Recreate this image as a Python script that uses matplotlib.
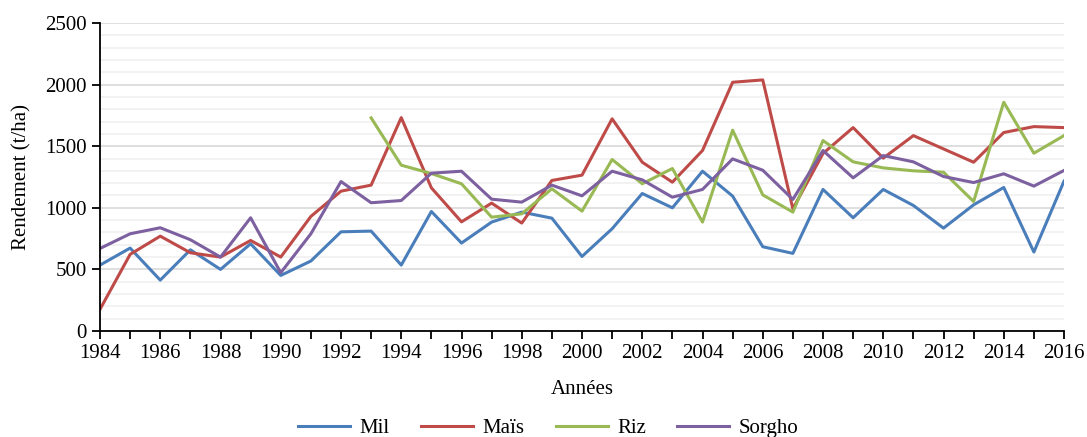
import numpy as np
import matplotlib.pyplot as plt
from matplotlib.ticker import MultipleLocator

plt.rcParams['font.family'] = ['Liberation Serif', 'DejaVu Serif']

years = list(range(1984, 2017))

mil = [535, 673, 413, 659, 500, 708, 451, 568, 805, 811, 535, 970, 714, 884, 965, 916, 605,
       830, 1116, 1000, 1297, 1095, 684, 630, 1149, 919, 1149, 1019, 835, 1024, 1165, 641, 1216]
mais = [176, 622, 770, 635, 600, 735, 600, 930, 1135, 1184, 1732, 1162, 886, 1038, 876, 1222, 1265,
        1722, 1370, 1208, 1465, 2019, 2038, 992, 1441, 1651, 1403, 1586, 1478, 1370, 1611, 1659, 1651]
riz = [np.nan] * 9 + [1730, 1346, 1278, 1195, 924, 951, 1154, 973,
                      1392, 1195, 1319, 884, 1630, 1105, 965, 1546, 1373, 1324, 1300, 1289, 1051, 1857, 1443, 1586]
sorgho = [670, 789, 838, 741, 600, 919, 473, 789, 1213, 1041, 1059, 1281, 1297, 1070, 1046, 1184, 1097,
          1297, 1227, 1086, 1149, 1397, 1305, 1068, 1465, 1243, 1424, 1373, 1254, 1205, 1276, 1176, 1303]

series = [("Mil", mil, "#4A7EBB"), ("Maïs", mais, "#BE4B48"),
          ("Riz", riz, "#98B954"), ("Sorgho", sorgho, "#7D60A0")]

fig = plt.figure(figsize=(10.87, 4.37), dpi=100)
ax = fig.add_axes([100 / 1087, 1 - 331 / 437, 964 / 1087, 308 / 437])

for name, vals, col in series:
    ax.plot(years, vals, color=col, linewidth=2.2, label=name)

ax.set_xlim(1984, 2016)
ax.set_ylim(0, 2500)
ax.xaxis.set_major_locator(MultipleLocator(2))
ax.xaxis.set_minor_locator(MultipleLocator(1))
ax.yaxis.set_major_locator(MultipleLocator(500))
ax.yaxis.set_minor_locator(MultipleLocator(100))

ax.grid(which='minor', axis='y', color='#f0f0f0', linewidth=1.2)
ax.grid(which='major', axis='y', color='#d9d9d9', linewidth=1.2)
ax.set_axisbelow(True)

for s in ['top', 'right']:
    ax.spines[s].set_visible(False)
for s in ['left', 'bottom']:
    ax.spines[s].set_color('black')
    ax.spines[s].set_linewidth(1.3)

ax.tick_params(axis='x', which='both', direction='out', length=6, width=1.3, labelsize=15)
ax.tick_params(axis='y', which='major', direction='out', length=6, width=1.3, labelsize=15)
ax.tick_params(axis='y', which='minor', length=0)

ax.set_xlabel('Années', fontsize=15, labelpad=12)
ax.set_ylabel('Rendement (t/ha)', fontsize=15, labelpad=10)

ax.legend(loc='center', bbox_to_anchor=(0.465, -0.315), ncol=4, frameon=False,
          fontsize=15, handlelength=2.5, columnspacing=1.5, handletextpad=0.45,
          borderpad=0.2)

fig.savefig('out.png', dpi=100)
